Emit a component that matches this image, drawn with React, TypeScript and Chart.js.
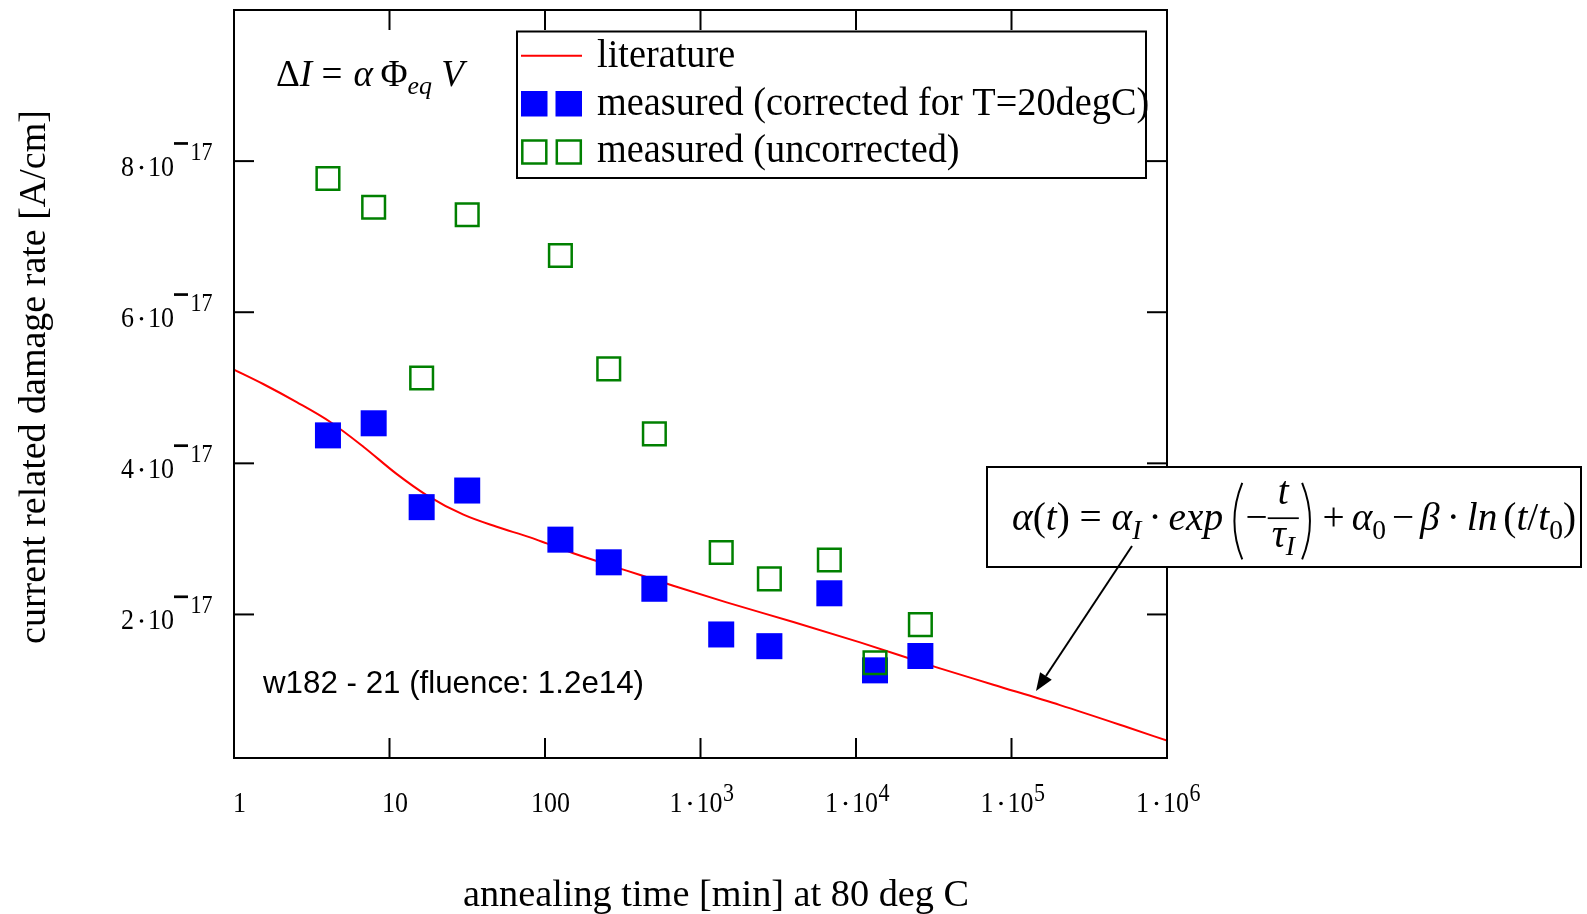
import React, { useEffect, useRef } from "react";
import { Chart, registerables } from "chart.js";
Chart.register(...registerables);

const W = 1587;
const H = 914;

// literature curve (t in min, alpha in A/cm)
const litTime = [1, 1.54, 2.53, 4.14, 6.79, 11.1, 17.3, 29.9, 48.9, 80.2, 102.6, 152, 335, 668, 1472, 3954, 10620, 33040, 76380, 205100, 550800, 1000000];
const litAlpha = [5.24e-17, 5.05e-17, 4.81e-17, 4.55e-17, 4.22e-17, 3.86e-17, 3.58e-17, 3.32e-17, 3.16e-17, 3.02e-17, 2.94e-17, 2.81e-17, 2.58e-17, 2.38e-17, 2.16e-17, 1.9e-17, 1.63e-17, 1.3e-17, 1.07e-17, 0.8e-17, 0.51e-17, 0.33e-17];

// measurements
const measTime = [4.02, 7.91, 16.1, 31.6, 125.6, 257, 505, 1359, 2773, 6740, 13250, 25940];
const measCorrected = [4.37e-17, 4.53e-17, 3.42e-17, 3.64e-17, 2.99e-17, 2.69e-17, 2.34e-17, 1.735e-17, 1.58e-17, 2.28e-17, 1.26e-17, 1.45e-17];
const measUncorrected = [7.77e-17, 7.39e-17, 5.13e-17, 7.29e-17, 6.75e-17, 5.25e-17, 4.39e-17, 2.82e-17, 2.47e-17, 2.72e-17, 1.36e-17, 1.865e-17];

// axes
const xMin = 1;
const xMax = 1e6;
const yMin = 1e-18;
const yMax = 1e-16;
const xTickValues = [1, 10, 100, 1e3, 1e4, 1e5, 1e6];
const xTickLabels = ["1", "10", "100", "1·10^3", "1·10^4", "1·10^5", "1·10^6"];
const yTickValues = [2e-17, 4e-17, 6e-17, 8e-17];
const yTickLabels = ["2·10^-17", "4·10^-17", "6·10^-17", "8·10^-17"];

const xTitle = "annealing time [min] at 80 deg C";
const yTitle = "current related damage rate [A/cm]";
const legendLabels = ["literature", "measured (corrected for T=20degC)", "measured (uncorrected)"];
const sampleNote = "w182 - 21 (fluence: 1.2e14)";

const SERIF = '"Liberation Serif", "Times New Roman", serif';
const SANS = '"Liberation Sans", Arial, sans-serif';
const RED = "#ff0000";
const BLUE = "#0000ff";
const GREEN = "#008000";
const TICK_SY = 1.12;

type Seg =
  | { t: string; it?: boolean; sub?: boolean; sup?: boolean }
  | { gap: number }
  | { paren: "(" | ")" }
  | { frac: [Seg[], Seg[]] };

function segFont(s: any, size: number) {
  const sz = s.sub || s.sup ? size * 0.7 : size;
  return `${s.it ? "italic " : ""}${sz}px ${SERIF}`;
}

function measureSegs(ctx: CanvasRenderingContext2D, segs: Seg[], size: number): number {
  let w = 0;
  for (const s of segs as any[]) {
    if (s.gap !== undefined) w += s.gap * size;
    else if (s.paren) w += 0.42 * size;
    else if (s.frac) {
      w += Math.max(measureSegs(ctx, s.frac[0], size), measureSegs(ctx, s.frac[1], size)) + 0.2 * size;
    } else {
      ctx.font = segFont(s, size);
      w += ctx.measureText(s.t).width;
    }
  }
  return w;
}

function drawSegs(ctx: CanvasRenderingContext2D, segs: Seg[], x: number, y: number, size: number) {
  for (const s of segs as any[]) {
    if (s.gap !== undefined) {
      x += s.gap * size;
    } else if (s.paren) {
      const w = 0.42 * size;
      const top = y - 1.2 * size;
      const bot = y + 0.75 * size;
      const mid = (top + bot) / 2;
      ctx.beginPath();
      ctx.lineWidth = 0.05 * size;
      if (s.paren === "(") {
        ctx.moveTo(x + 0.8 * w, top);
        ctx.quadraticCurveTo(x - 0.15 * w, mid, x + 0.8 * w, bot);
      } else {
        ctx.moveTo(x + 0.2 * w, top);
        ctx.quadraticCurveTo(x + 1.15 * w, mid, x + 0.2 * w, bot);
      }
      ctx.stroke();
      x += w;
    } else if (s.frac) {
      const wn = measureSegs(ctx, s.frac[0], size);
      const wd = measureSegs(ctx, s.frac[1], size);
      const wf = Math.max(wn, wd) + 0.2 * size;
      const bar = y - 0.3 * size;
      ctx.fillRect(x, bar - 0.022 * size, wf, 0.044 * size);
      drawSegs(ctx, s.frac[0], x + (wf - wn) / 2, bar - 0.37 * size, size);
      drawSegs(ctx, s.frac[1], x + (wf - wd) / 2, bar + 0.72 * size, size);
      x += wf;
    } else {
      ctx.font = segFont(s, size);
      const dy = s.sub ? 0.22 * size : s.sup ? -0.4 * size : 0;
      ctx.fillText(s.t, x, y + dy);
      x += ctx.measureText(s.t).width;
    }
  }
}

function drawMath(ctx: CanvasRenderingContext2D, segs: Seg[], x0: number, x1: number, baseline: number, size: number) {
  ctx.save();
  ctx.textAlign = "left";
  ctx.textBaseline = "alphabetic";
  const w = measureSegs(ctx, segs, size);
  const k = (x1 - x0) / w;
  ctx.translate(x0, baseline);
  ctx.scale(k, k);
  drawSegs(ctx, segs, 0, 0, size);
  ctx.restore();
}

const damageFormula: Seg[] = [
  { t: "Δ" }, { t: "I", it: true }, { gap: 0.25 }, { t: "=" }, { gap: 0.3 },
  { t: "α", it: true }, { gap: 0.2 }, { t: "Φ" }, { t: "eq", it: true, sub: true }, { gap: 0.25 }, { t: "V", it: true },
];

const alphaFormula: Seg[] = [
  { t: "α", it: true }, { t: "(" }, { t: "t", it: true }, { t: ")" }, { gap: 0.25 }, { t: "=" }, { gap: 0.25 },
  { t: "α", it: true }, { t: "I", it: true, sub: true }, { gap: 0.18 }, { t: "·" }, { gap: 0.18 }, { t: "exp", it: true }, { gap: 0.15 },
  { paren: "(" }, { t: "−" },
  { frac: [[{ t: "t", it: true }], [{ t: "τ", it: true }, { t: "I", it: true, sub: true }]] },
  { paren: ")" }, { gap: 0.18 }, { t: "+" }, { gap: 0.18 },
  { t: "α", it: true }, { t: "0", sub: true }, { gap: 0.15 }, { t: "−" }, { gap: 0.15 }, { t: "β", it: true }, { gap: 0.18 }, { t: "·" }, { gap: 0.18 },
  { t: "ln", it: true }, { gap: 0.15 }, { t: "(" }, { t: "t", it: true }, { t: "/" }, { t: "t", it: true }, { t: "0", sub: true }, { t: ")" },
];

function line(ctx: CanvasRenderingContext2D, x1: number, y1: number, x2: number, y2: number) {
  ctx.beginPath();
  ctx.moveTo(x1, y1);
  ctx.lineTo(x2, y2);
  ctx.stroke();
}

function stretchedText(ctx: CanvasRenderingContext2D, s: string, x: number, y: number) {
  ctx.save();
  ctx.translate(x, y);
  ctx.scale(1, TICK_SY);
  ctx.fillText(s, 0, 0);
  ctx.restore();
}

// "m·10^e" style label
function drawPowerLabel(ctx: CanvasRenderingContext2D, label: string, xStart: number, baseline: number, supBaseline: number) {
  const [mant, rest] = label.split("·");
  const [, exp] = rest.split("^");
  ctx.textAlign = "left";
  ctx.font = `26px ${SERIF}`;
  stretchedText(ctx, mant, xStart, baseline);
  const mw = ctx.measureText(mant).width;
  const dotX = xStart + mw + 7.5;
  ctx.beginPath();
  ctx.arc(dotX, baseline - 8.5, 1.8, 0, Math.PI * 2);
  ctx.fill();
  const tenX = dotX + 6.5;
  stretchedText(ctx, "10", tenX, baseline);
  const tw = ctx.measureText("10").width;
  let sx = tenX + tw + 0.5;
  let digits = exp;
  if (exp.startsWith("-")) {
    digits = exp.slice(1);
    ctx.fillRect(sx - 0.5, supBaseline - 17.5, 14, 2.7);
    sx += 16;
  }
  ctx.font = `22px ${SERIF}`;
  stretchedText(ctx, digits, sx, supBaseline);
}

const overlay = {
  id: "overlay",
  afterDraw(chart: any) {
    const ctx: CanvasRenderingContext2D = chart.ctx;
    const { left, right, top, bottom } = chart.chartArea;
    const xs = chart.scales.x;
    const ys = chart.scales.y;
    ctx.save();
    ctx.fillStyle = "#000";
    ctx.strokeStyle = "#000";
    ctx.lineWidth = 2;
    ctx.strokeRect(left, top, right - left, bottom - top);

    const TL = 20;
    xTickValues.forEach((v, i) => {
      const px = xs.getPixelForValue(v);
      if (px > left + 2 && px < right - 2) {
        line(ctx, px, bottom, px, bottom - TL);
        line(ctx, px, top, px, top + TL);
      }
      const lab = xTickLabels[i];
      if (lab.includes("^")) {
        drawPowerLabel(ctx, lab, px - 31, 812, 801);
      } else {
        ctx.font = `26px ${SERIF}`;
        ctx.textAlign = "center";
        stretchedText(ctx, lab, px + 5.5, 812);
      }
    });
    yTickValues.forEach((v, i) => {
      const py = ys.getPixelForValue(v);
      line(ctx, left, py, left + TL, py);
      line(ctx, right, py, right - TL, py);
      drawPowerLabel(ctx, yTickLabels[i], 121, py + 15, py - 1.5);
    });

    // axis titles
    ctx.font = `38.3px ${SERIF}`;
    ctx.textAlign = "center";
    ctx.fillText(xTitle, 716, 906);
    ctx.save();
    ctx.translate(45, 377);
    ctx.rotate(-Math.PI / 2);
    ctx.font = `38px ${SERIF}`;
    ctx.fillText(yTitle, 0, 0);
    ctx.restore();

    // sample note
    ctx.textAlign = "left";
    ctx.font = `31.3px ${SANS}`;
    ctx.fillText(sampleNote, 263, 693);

    // damage formula
    drawMath(ctx, damageFormula, 276, 464, 86, 34);

    // legend
    ctx.fillStyle = "#fff";
    ctx.fillRect(517, 31.5, 629, 146.5);
    ctx.lineWidth = 2;
    ctx.strokeRect(517, 31.5, 629, 146.5);
    ctx.strokeStyle = RED;
    line(ctx, 521, 55.7, 582, 55.7);
    ctx.fillStyle = BLUE;
    ctx.fillRect(521, 91, 26.5, 25.5);
    ctx.fillRect(555.5, 91, 26.5, 25.5);
    ctx.strokeStyle = GREEN;
    ctx.lineWidth = 2.5;
    ctx.strokeRect(522.3, 140.5, 24, 23);
    ctx.strokeRect(556.8, 140.5, 24, 23);
    ctx.fillStyle = "#000";
    ctx.font = `38.3px ${SERIF}`;
    ctx.textAlign = "left";
    legendLabels.forEach((l, i) => {
      ctx.save();
      ctx.translate(597, 67 + i * 47.5);
      ctx.scale(1, 1.05);
      ctx.fillText(l, 0, 0);
      ctx.restore();
    });

    // formula box
    ctx.fillStyle = "#fff";
    ctx.fillRect(987, 467, 594, 100);
    ctx.strokeStyle = "#000";
    ctx.lineWidth = 2;
    ctx.strokeRect(987, 467, 594, 100);
    ctx.fillStyle = "#000";
    drawMath(ctx, alphaFormula, 1012, 1576, 530, 30);

    // arrow
    const ax0 = 1132, ay0 = 546, ax1 = 1036, ay1 = 691;
    const ang = Math.atan2(ay1 - ay0, ax1 - ax0);
    const hl = 18, hw = 7;
    const bx = ax1 - hl * Math.cos(ang), by = ay1 - hl * Math.sin(ang);
    ctx.lineWidth = 2;
    line(ctx, ax0, ay0, bx, by);
    ctx.beginPath();
    ctx.moveTo(ax1, ay1);
    ctx.lineTo(bx + hw * Math.sin(ang), by - hw * Math.cos(ang));
    ctx.lineTo(bx - hw * Math.sin(ang), by + hw * Math.cos(ang));
    ctx.closePath();
    ctx.fill();
    ctx.restore();
  },
};

export default function App() {
  const ref = useRef<HTMLCanvasElement>(null);
  useEffect(() => {
    const chart = new Chart(ref.current as HTMLCanvasElement, {
      type: "scatter",
      data: {
        datasets: [
          {
            label: legendLabels[0],
            data: litTime.map((t, i) => ({ x: t, y: litAlpha[i] })),
            showLine: true,
            pointRadius: 0,
            borderColor: RED,
            borderWidth: 2,
            cubicInterpolationMode: "monotone",
            order: 3,
          },
          {
            label: legendLabels[1],
            data: measTime.map((t, i) => ({ x: t, y: measCorrected[i] })),
            pointStyle: "rect",
            pointRadius: 18.4,
            backgroundColor: BLUE,
            borderWidth: 0,
            order: 2,
          },
          {
            label: legendLabels[2],
            data: measTime.map((t, i) => ({ x: t, y: measUncorrected[i] })),
            pointStyle: "rect",
            pointRadius: 16,
            backgroundColor: "rgba(0,0,0,0)",
            borderColor: GREEN,
            borderWidth: 2.5,
            order: 1,
          },
        ],
      } as any,
      options: {
        responsive: false,
        animation: false,
        devicePixelRatio: 1,
        layout: { autoPadding: false, padding: { left: 234, right: 420, top: 10, bottom: 156 } },
        plugins: { legend: { display: false }, tooltip: { enabled: false } },
        scales: {
          x: { type: "logarithmic", min: xMin, max: xMax, display: false },
          y: { type: "linear", min: yMin, max: yMax, display: false },
        },
      } as any,
      plugins: [overlay],
    });
    return () => chart.destroy();
  }, []);
  return (
    <div style={{ position: "absolute", left: 0, top: 0, width: W, height: H, background: "#fff" }}>
      <canvas ref={ref} width={W} height={H} style={{ display: "block", width: W, height: H }} />
    </div>
  );
}
